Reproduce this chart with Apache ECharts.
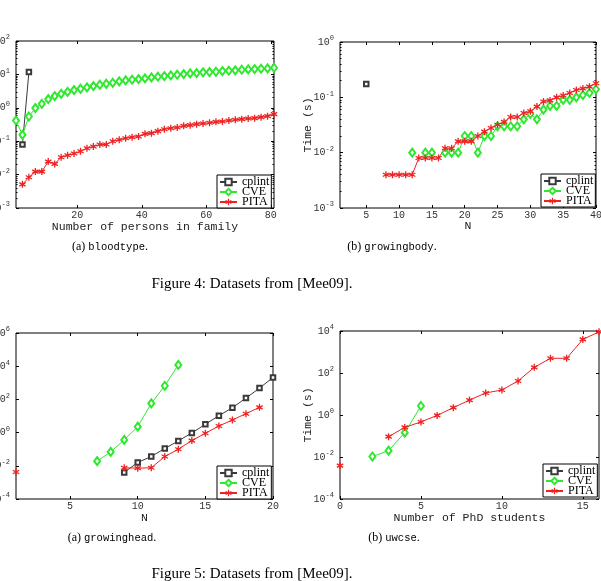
<!DOCTYPE html>
<html>
<head>
<meta charset="utf-8">
<script src="https://cdn.jsdelivr.net/npm/echarts@6/dist/echarts.min.js"></script>
<style>
  html, body { margin: 0; padding: 0; background: #fff; }
  #chart { width: 601px; height: 581px; }
</style>
</head>
<body>
<div id="chart"></div>
<script>
// (a) bloodtype
var bloodCplintX = [3, 5];
var bloodCplintY = [0.08, 11.7];
var bloodCveX = [1, 3, 5, 7, 9, 11, 13, 15, 17, 19, 21, 23, 25, 27, 29, 31, 33, 35, 37, 39, 41,
  43, 45, 47, 49, 51, 53, 55, 57, 59, 61, 63, 65, 67, 69, 71, 73, 75, 77, 79, 81];
var bloodCveY = [0.417, 0.155, 0.55, 0.98, 1.32, 1.82, 2.24, 2.63, 3.02, 3.39, 3.72, 4.07, 4.47, 4.9,
  5.25, 5.62, 6.17, 6.61, 6.92, 7.24, 7.59, 8.13, 8.51, 8.91, 9.33, 9.77, 10.2, 10.7, 11.0, 11.5,
  11.7, 12.0, 12.6, 12.9, 13.2, 13.8, 14.1, 14.5, 14.8, 15.1, 15.8];
var bloodPitaX = [3, 5, 7, 9, 11, 13, 15, 17, 19, 21, 23, 25, 27, 29, 31, 33, 35, 37, 39, 41,
  43, 45, 47, 49, 51, 53, 55, 57, 59, 61, 63, 65, 67, 69, 71, 73, 75, 77, 79, 81];
var bloodPitaY = [0.0051, 0.0083, 0.0123, 0.0123, 0.0245, 0.0209, 0.0331, 0.038, 0.0427, 0.05,
  0.0617, 0.0692, 0.0794, 0.0794, 0.1, 0.11, 0.123, 0.132, 0.138, 0.166, 0.174, 0.2, 0.229, 0.245,
  0.257, 0.288, 0.302, 0.324, 0.339, 0.355, 0.38, 0.389, 0.417, 0.437, 0.457, 0.479, 0.49, 0.525,
  0.562, 0.646];
var bloodXTicks = [20, 40, 60, 80];

// (b) growingbody
var bodyCplintX = [5];
var bodyCplintY = [0.175];
var bodyCveX = [12, 13, 14, 15, 16, 17, 18, 19, 20, 21, 22, 23, 24, 25, 26, 27, 28, 29, 30, 31, 32,
  33, 34, 35, 36, 37, 38, 39, 40];
var bodyCveY = [0.01, null, 0.01, 0.01, null, 0.01, 0.01, 0.01, 0.02, 0.02, 0.01, 0.02, 0.02, 0.03,
  0.03, 0.03, 0.03, 0.04, 0.05, 0.04, 0.06, 0.07, 0.07, 0.09, 0.09, 0.1, 0.11, 0.12, 0.14];
var bodyPitaX = [8, 9, 10, 11, 12, 13, 14, 15, 16, 17, 18, 19, 20, 21, 22, 23, 24, 25, 26, 27, 28,
  29, 30, 31, 32, 33, 34, 35, 36, 37, 38, 39, 40];
var bodyPitaY = [0.004, 0.004, 0.004, 0.004, 0.004, 0.008, 0.008, 0.008, 0.008, 0.012, 0.012, 0.016,
  0.016, 0.016, 0.02, 0.024, 0.028, 0.032, 0.036, 0.044, 0.044, 0.052, 0.056, 0.068, 0.084, 0.088,
  0.1, 0.108, 0.12, 0.136, 0.144, 0.156, 0.18];
var bodyXTicks = [5, 10, 15, 20, 25, 30, 35, 40];

// (a) growinghead
var headCplintX = [9, 10, 11, 12, 13, 14, 15, 16, 17, 18, 19, 20];
var headCplintY = [0.004, 0.0158, 0.0363, 0.11, 0.316, 0.955, 3.16, 10.5, 31.6, 120, 479, 2090];
var headCveX = [7, 8, 9, 10, 11, 12, 13];
var headCveY = [0.019, 0.069, 0.363, 2.29, 57.5, 661, 12000];
var headPitaX = [1, 5, 9, 10, 11, 12, 13, 14, 15, 16, 17, 18, 19];
var headPitaY = [0.0042, null, 0.0076, 0.0072, 0.0076, 0.036, 0.1, 0.33, 0.91, 2.5, 5.75, 13.8, 33.1];
var headXTicks = [5, 10, 15, 20];

// (b) uwcse
var uwCveX = [2, 3, 4, 5];
var uwCveY = [0.0105, 0.02, 0.144, 2.69];
var uwPitaX = [0, 1, 3, 4, 5, 6, 7, 8, 9, 10, 11, 12, 13, 14, 15, 16];
var uwPitaY = [0.0039, null, 0.093, 0.257, 0.468, 0.955, 2.24, 5.13, 11.2, 15.5, 41.7, 186, 501, 501, 3980, 9120];
var uwXTicks = [0, 5, 10, 15];

var MONO = '"Liberation Mono", "DejaVu Sans Mono", monospace';
var SERIF = '"Liberation Serif", "DejaVu Serif", serif';
var C_CPLINT = '#3a3a3a';
var C_CVE = '#2ee82e';
var C_PITA = '#ee2222';
var STAR = 'path://M-0.9,-5L0.9,-5L0.9,5L-0.9,5Z' +
  'M3.88,3.28L-4.78,-1.72L-3.88,-3.28L4.78,1.72Z' +
  'M4.78,-1.72L-3.88,3.28L-4.78,1.72L3.88,-3.28Z';

var grids = [], xAxes = [], yAxes = [], series = [], legends = [];

function pairs(xs, ys) {
  return xs.map(function (x, i) { return [x, ys[i]]; });
}

function expLabel(v) {
  var e = Math.round(Math.log(v) / Math.LN10);
  return '{b|10}{s|' + e + '}';
}

function minorValues(lo, hi) {
  var out = [];
  for (var d = lo; d < hi; d++) {
    for (var k = 2; k <= 9; k++) out.push(k * Math.pow(10, d));
  }
  return out;
}

function addPanel(p) {
  var gi = grids.length;
  grids.push({
    left: p.left, top: p.top, width: p.width, height: p.height,
    containLabel: false, outerBoundsMode: 'none',
    show: true, borderColor: '#000', borderWidth: 1, backgroundColor: '#fff'
  });

  var tickStyle = { color: '#000', width: 1 };
  var xi = xAxes.length;
  var xBase = {
    type: 'value', gridIndex: gi, min: p.xMin, max: p.xMax,
    splitLine: { show: false }, axisLine: { show: false, onZero: false }
  };
  xAxes.push(Object.assign({}, xBase, {
    position: 'bottom',
    name: p.xName, nameLocation: 'middle', nameGap: p.xNameGap, nameMoveOverlap: false,
    nameTextStyle: { fontFamily: MONO, fontSize: 11.5, color: '#222' },
    axisTick: { inside: true, length: 3, customValues: p.xTicks, lineStyle: tickStyle },
    axisLabel: { customValues: p.xTicks, fontFamily: MONO, fontSize: 10, color: '#333', margin: 2 }
  }));
  xAxes.push(Object.assign({}, xBase, {
    position: 'top',
    axisTick: { inside: true, length: 3, customValues: p.xTicks, lineStyle: tickStyle },
    axisLabel: { show: false }
  }));

  var yi = yAxes.length;
  var yBase = {
    type: 'log', logBase: 10, gridIndex: gi, min: p.yMin, max: p.yMax, interval: p.yStep,
    splitLine: { show: false }, axisLine: { show: false, onZero: false }
  };
  yAxes.push(Object.assign({}, yBase, {
    position: 'left',
    name: p.yName, nameLocation: 'middle', nameGap: p.yNameGap, nameMoveOverlap: false,
    nameTextStyle: { fontFamily: MONO, fontSize: 11.5, color: '#222' },
    axisTick: { inside: true, length: 3, lineStyle: tickStyle },
    axisLabel: {
      formatter: expLabel, margin: 6,
      rich: {
        b: { fontFamily: MONO, fontSize: 10, color: '#333' },
        s: { fontFamily: MONO, fontSize: 7, color: '#333', padding: [0, 0, 7, 0] }
      }
    }
  }));
  yAxes.push(Object.assign({}, yBase, {
    position: 'right',
    axisTick: { inside: true, length: 3, lineStyle: tickStyle },
    axisLabel: { show: false }
  }));
  if (p.minor) {
    var mv = minorValues(Math.round(Math.log10(p.yMin)), Math.round(Math.log10(p.yMax)));
    ['left', 'right'].forEach(function (pos) {
      yAxes.push(Object.assign({}, yBase, {
        position: pos,
        axisTick: { inside: true, length: 1.5, customValues: mv, lineStyle: tickStyle },
        axisLabel: { show: false }
      }));
    });
  }

  function line(name, xs, ys, color, symbol, size, bw) {
    series.push({
      name: name, type: 'line', xAxisIndex: xi, yAxisIndex: yi,
      data: pairs(xs, ys), connectNulls: false, clip: false,
      symbol: symbol, symbolSize: size, showAllSymbol: true,
      lineStyle: { color: color, width: 1 },
      itemStyle: { color: color, borderColor: color, borderWidth: bw },
      emphasis: { disabled: true }
    });
  }
  if (p.cplint) line('cplint', p.cplint[0], p.cplint[1], C_CPLINT, 'emptyRect', 4.5, 1);
  if (p.cve) line('CVE', p.cve[0], p.cve[1], C_CVE, 'emptyDiamond', [6, 8], 1);
  if (p.pita) line('PITA', p.pita[0], p.pita[1], C_PITA, STAR, 7, 0);

  legends.push({
    left: p.legLeft, top: p.legTop, orient: 'vertical',
    data: ['cplint', 'CVE', 'PITA'],
    backgroundColor: '#fff', borderColor: '#000', borderWidth: 1, borderRadius: 0,
    padding: [1, 2, 0, 2], itemGap: -2, itemWidth: 17, itemHeight: 8,
    selectedMode: false,
    textStyle: { fontFamily: SERIF, fontSize: 12, color: '#000', lineHeight: 10 }
  });
}

addPanel({
  left: 16, top: 41, width: 258, height: 167,
  xMin: 1, xMax: 81, xTicks: bloodXTicks, xName: 'Number of persons in family', xNameGap: 13,
  yMin: 1e-3, yMax: 1e2, yStep: 1, minor: true, yName: '', yNameGap: 30,
  cplint: [bloodCplintX, bloodCplintY], cve: [bloodCveX, bloodCveY], pita: [bloodPitaX, bloodPitaY],
  legLeft: 217, legTop: 175
});
addPanel({
  left: 340, top: 42, width: 256, height: 166,
  xMin: 1, xMax: 40, xTicks: bodyXTicks, xName: 'N', xNameGap: 12,
  yMin: 1e-3, yMax: 1, yStep: 1, minor: true, yName: 'Time (s)', yNameGap: 26,
  cplint: [bodyCplintX, bodyCplintY], cve: [bodyCveX, bodyCveY], pita: [bodyPitaX, bodyPitaY],
  legLeft: 541, legTop: 174
});
addPanel({
  left: 16, top: 333, width: 257, height: 166,
  xMin: 1, xMax: 20, xTicks: headXTicks, xName: 'N', xNameGap: 13,
  yMin: 1e-4, yMax: 1e6, yStep: 2, minor: false, yName: '', yNameGap: 30,
  cplint: [headCplintX, headCplintY], cve: [headCveX, headCveY], pita: [headPitaX, headPitaY],
  legLeft: 217, legTop: 466
});
addPanel({
  left: 340, top: 331, width: 259, height: 168,
  xMin: 0, xMax: 16, xTicks: uwXTicks, xName: 'Number of PhD students', xNameGap: 13,
  yMin: 1e-4, yMax: 1e4, yStep: 2, minor: false, yName: 'Time (s)', yNameGap: 26,
  cve: [uwCveX, uwCveY], pita: [uwPitaX, uwPitaY],
  legLeft: 543, legTop: 464
});

function caption(x, y, label, code) {
  return {
    type: 'text', x: x, y: y, silent: true,
    style: {
      text: '{n|' + label + ' }{m|' + code + '}{n|.}',
      align: 'center', verticalAlign: 'middle', textAlign: 'center', textVerticalAlign: 'middle',
      rich: {
        n: { fontFamily: SERIF, fontSize: 12, fill: '#000', color: '#000' },
        m: { fontFamily: MONO, fontSize: 10.5, fill: '#000', color: '#000' }
      }
    }
  };
}
function figCaption(y, text) {
  return {
    type: 'text', x: 252, y: y, silent: true,
    style: {
      text: text, font: '15px ' + SERIF, fill: '#000',
      align: 'center', verticalAlign: 'middle', textAlign: 'center', textVerticalAlign: 'middle'
    }
  };
}

var myChart = echarts.init(document.getElementById('chart'), null, { renderer: 'canvas' });
myChart.setOption({
  animation: false,
  backgroundColor: '#fff',
  grid: grids,
  xAxis: xAxes,
  yAxis: yAxes,
  legend: legends,
  series: series,
  graphic: [
    caption(110, 247, '(a)', 'bloodtype'),
    caption(392, 247, '(b)', 'growingbody'),
    figCaption(284, 'Figure 4: Datasets from [Mee09].'),
    caption(112, 538, '(a)', 'growinghead'),
    caption(394, 538, '(b)', 'uwcse'),
    figCaption(574, 'Figure 5: Datasets from [Mee09].')
  ]
});
</script>
</body>
</html>
